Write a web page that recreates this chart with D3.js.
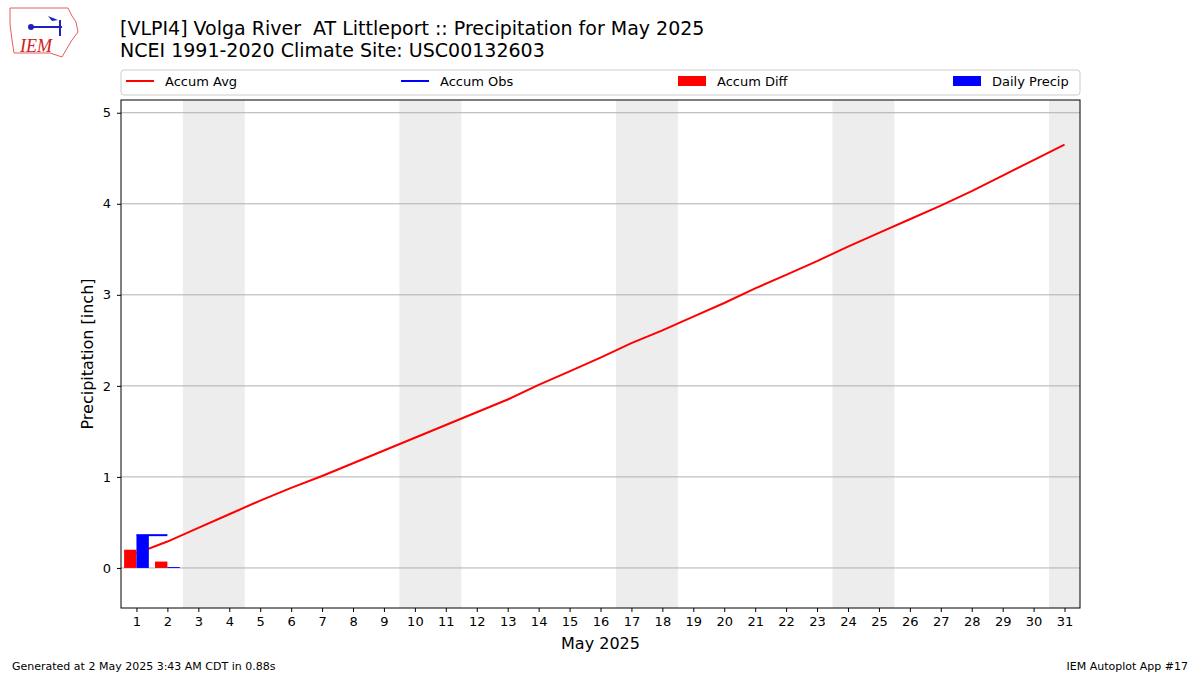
<!DOCTYPE html>
<html><head><meta charset="utf-8">
<script src="https://cdn.jsdelivr.net/npm/d3@7"></script>
<style>body{margin:0;background:#fff;font-family:"DejaVu Sans",sans-serif}</style>
</head><body><svg id="c" width="1200" height="675"></svg>
<script>
const days = d3.range(1, 32);
const accumAvg = [0.16,0.29,0.44,0.59,0.74,0.88,1.01,1.15,1.29,1.43,1.57,1.71,1.85,2.01,2.16,2.31,2.47,2.61,2.76,2.91,3.07,3.22,3.37,3.53,3.68,3.83,3.98,4.14,4.31,4.48,4.65];
const obsDays = [1, 2];
const dailyPrecip = [0.36, 0.01];
const accumObs = [0.36, 0.36];
const accumDiff = [0.20, 0.07];
const weekends = [[2.5,4.5],[9.5,11.5],[16.5,18.5],[23.5,25.5],[30.5,31.5]];
const yTicks = [0,1,2,3,4,5];

const svg = d3.select('#c');
const L = 121, R = 1080, T = 100, B = 608;
const x = d3.scaleLinear().domain([0.5, 31.5]).range([L, R]);
const y = d3.scaleLinear().domain([-0.44, 5.14]).range([B, T]);

svg.selectAll('.we').data(weekends).join('rect')
  .attr('x', d => x(d[0])).attr('width', d => x(d[1]) - x(d[0]))
  .attr('y', T).attr('height', B - T).attr('fill', '#ededed');

svg.selectAll('.grid').data(yTicks).join('line')
  .attr('x1', L).attr('x2', R).attr('y1', d => y(d)).attr('y2', d => y(d))
  .attr('stroke', '#b0b0b0').attr('stroke-width', 1);

const line = d3.line().x(d => x(d[0])).y(d => y(d[1]));
svg.append('path').datum(days.map((d, i) => [d, accumAvg[i]]))
  .attr('d', line).attr('fill', 'none').attr('stroke', 'red').attr('stroke-width', 2);

const bw = x(1.4) - x(1);
svg.selectAll('.diff').data(obsDays).join('rect')
  .attr('x', (d) => x(d) - bw).attr('width', bw)
  .attr('y', (d, i) => y(Math.max(0, accumDiff[i])))
  .attr('height', (d, i) => Math.abs(y(accumDiff[i]) - y(0))).attr('fill', 'red');
svg.selectAll('.dp').data(obsDays).join('rect')
  .attr('x', d => x(d)).attr('width', bw)
  .attr('y', (d, i) => y(dailyPrecip[i]))
  .attr('height', (d, i) => y(0) - y(dailyPrecip[i])).attr('fill', 'blue');

svg.append('path').datum(obsDays.map((d, i) => [d, accumObs[i]]))
  .attr('d', line).attr('fill', 'none').attr('stroke', 'blue').attr('stroke-width', 2);

svg.append('rect').attr('x', L).attr('y', T).attr('width', R - L).attr('height', B - T)
  .attr('fill', 'none').attr('stroke', '#000');

const ya = svg.append('g').attr('transform', `translate(${L},0)`)
  .call(d3.axisLeft(y).tickValues(yTicks).tickFormat(d3.format('d')).tickSize(4).tickPadding(6));
const xa = svg.append('g').attr('transform', `translate(0,${B})`)
  .call(d3.axisBottom(x).tickValues(days).tickSize(4).tickPadding(5));
[ya, xa].forEach(a => { a.select('.domain').remove(); a.selectAll('text').attr('font-size', 13).attr('fill', '#000').attr('font-family', 'DejaVu Sans'); });

svg.append('text').attr('x', (L + R) / 2).attr('y', 649).attr('text-anchor', 'middle')
  .attr('font-size', 16).text('May 2025');
svg.append('text').attr('transform', `translate(93,${(T + B) / 2}) rotate(-90)`)
  .attr('text-anchor', 'middle').attr('font-size', 16).text('Precipitation [inch]');

svg.append('text').attr('x', 120).attr('y', 35).attr('font-size', 19).attr('xml:space','preserve')
  .text('[VLPI4] Volga River  AT Littleport :: Precipitation for May 2025');
svg.append('text').attr('x', 120).attr('y', 57).attr('font-size', 19)
  .text('NCEI 1991-2020 Climate Site: USC00132603');

// legend
svg.append('rect').attr('x', L).attr('y', 70).attr('width', R - L).attr('height', 25).attr('rx', 3)
  .attr('fill', '#fff').attr('stroke', '#ccc');
const leg = [
  { t: 'Accum Avg', c: 'red', k: 'l', x: 126 },
  { t: 'Accum Obs', c: 'blue', k: 'l', x: 401 },
  { t: 'Accum Diff', c: 'red', k: 'r', x: 678 },
  { t: 'Daily Precip', c: 'blue', k: 'r', x: 953 }
];
leg.forEach(l => {
  if (l.k === 'l') svg.append('line').attr('x1', l.x).attr('x2', l.x + 28).attr('y1', 81).attr('y2', 81).attr('stroke', l.c).attr('stroke-width', 2);
  else svg.append('rect').attr('x', l.x).attr('y', 76).attr('width', 28).attr('height', 10).attr('fill', l.c);
  svg.append('text').attr('x', l.x + 39).attr('y', 86).attr('font-size', 13).text(l.t);
});

svg.append('text').attr('x', 12).attr('y', 670).attr('font-size', 11).text('Generated at 2 May 2025 3:43 AM CDT in 0.88s');
svg.append('text').attr('x', 1188).attr('y', 670).attr('font-size', 11).attr('text-anchor', 'end').text('IEM Autoplot App #17');

// logo
const lg = svg.append('g');
lg.append('path').attr('d', 'M10,8 L68,8 L72,16 L76,22 L78,32 L72,40 L66,50 L62,57 L50,53 L14,53 L12,40 L10,24 Z')
  .attr('fill', 'none').attr('stroke', '#e06060').attr('stroke-width', 1);
lg.append('text').attr('x', 20).attr('y', 52).attr('font-size', 18).attr('font-style', 'italic')
  .attr('font-family', 'Liberation Serif').attr('fill', '#d02020').text('IEM');
lg.append('line').attr('x1', 30).attr('x2', 62).attr('y1', 27).attr('y2', 27).attr('stroke', '#2020c0').attr('stroke-width', 2);
lg.append('circle').attr('cx', 31).attr('cy', 27).attr('r', 3).attr('fill', '#2020c0');
lg.append('line').attr('x1', 60).attr('x2', 60).attr('y1', 20).attr('y2', 36).attr('stroke', '#2020c0').attr('stroke-width', 2);
lg.append('path').attr('d', 'M48,16 L58,20 L52,21 Z').attr('fill', '#2020c0');
</script></body></html>
